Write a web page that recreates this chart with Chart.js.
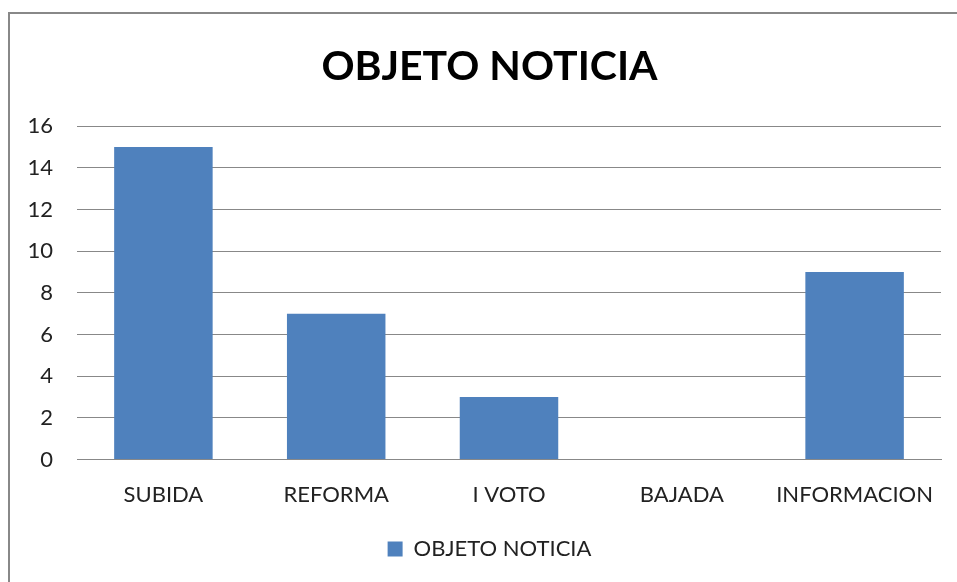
<!DOCTYPE html>
<html>
<head>
<meta charset="utf-8">
<script src="https://cdn.jsdelivr.net/npm/chart.js@4"></script>
<style>
  html, body { margin: 0; padding: 0; background: #fff; }
  #marco { position: absolute; left: 8px; top: 12px; width: 1000px; height: 700px;
           border-left: 2px solid #888; border-top: 2px solid #888; }
  #caja { position: absolute; left: 0; top: 0; width: 957px; height: 582px; }
</style>
</head>
<body>
<div id="marco"></div>
<div id="caja"><canvas id="graficoNoticia"></canvas></div>
<script>
const categorias = ['SUBIDA', 'REFORMA', 'I VOTO', 'BAJADA', 'INFORMACION'];
const valores = [15, 7, 3, 0, 9];
const serie = 'OBJETO NOTICIA';

const fuente = 'Lato, "Liberation Sans", sans-serif';

const ctx = document.getElementById('graficoNoticia').getContext('2d');
const grafico = new Chart(ctx, {
  type: 'bar',
  data: {
    labels: categorias,
    datasets: [{
      label: serie,
      data: valores,
      backgroundColor: '#4f81bd',
      categoryPercentage: 0.57,
      barPercentage: 1
    }]
  },
  options: {
    responsive: true,
    maintainAspectRatio: false,
    animation: false,
    layout: { padding: { left: 38, right: 16, top: 42, bottom: 12 } },
    plugins: {
      title: {
        display: true,
        text: 'OBJETO NOTICIA',
        color: '#000',
        font: { family: fuente, size: 41, weight: 'bold' },
        padding: { top: 0, bottom: 35 }
      },
      legend: {
        position: 'bottom',
        labels: {
          color: '#222',
          font: { family: fuente, size: 22 },
          boxWidth: 15,
          boxHeight: 15,
          padding: 16
        }
      },
      tooltip: { enabled: false }
    },
    scales: {
      x: {
        grid: { display: false },
        border: { color: '#888' },
        ticks: { color: '#222', font: { family: fuente, size: 22 }, padding: 14 }
      },
      y: {
        min: 0,
        max: 16,
        afterFit: function (escala) {
          escala.width = 39;
          // las etiquetas salen del ancho del eje, no recortarlas
          escala._computeLabelArea = function () { return undefined; };
        },
        grid: { color: '#888', drawTicks: false },
        border: { display: false },
        ticks: { stepSize: 2, color: '#222', font: { family: fuente, size: 22 }, padding: 24 }
      }
    }
  }
});
</script>
</body>
</html>
